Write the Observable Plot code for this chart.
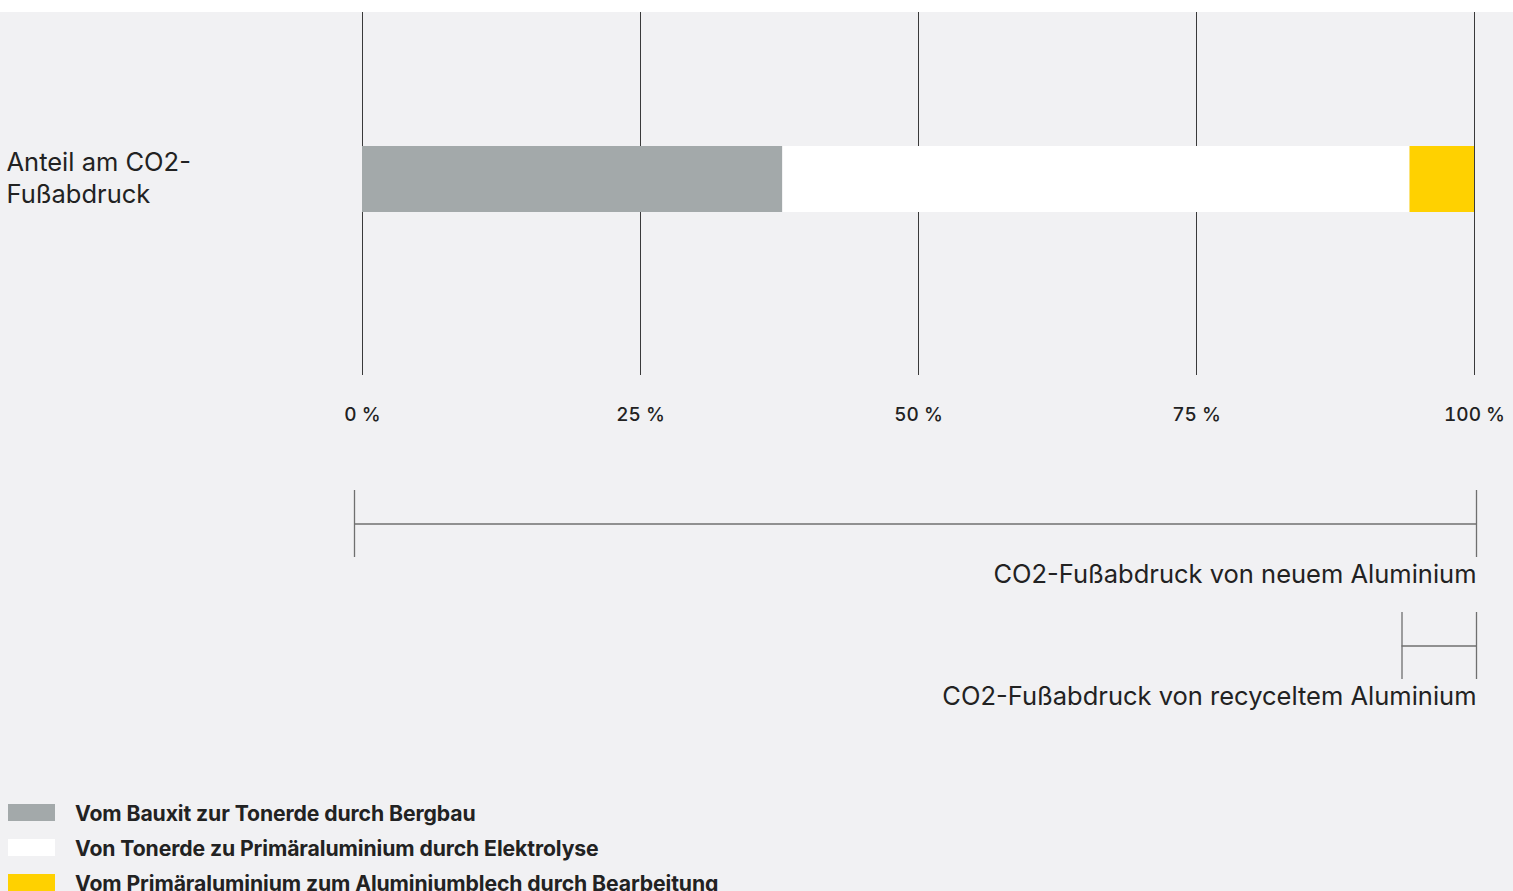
<!DOCTYPE html>
<html><head><meta charset="utf-8">
<script src="https://cdn.jsdelivr.net/npm/d3@7"></script>
<script src="https://cdn.jsdelivr.net/npm/@observablehq/plot@0.6"></script>
<style>
html,body{margin:0;padding:0;background:#f1f1f3;overflow:hidden;width:1513px;height:891px;font-family:Inter,"Liberation Sans",sans-serif;color:#222;}
#top{height:12px;background:#fff;}
#chart svg,#brackets svg{display:block;background:transparent;}
#legend{position:absolute;left:8px;top:795px;}
.row{display:flex;align-items:center;height:35px;}
.sw{width:47px;height:17px;margin-right:20px;}
.lab{font-size:21.2px;font-weight:700;letter-spacing:-0.1px;color:#222;}
</style></head><body>
<div id="top"></div>
<div id="chart"></div>
<div id="brackets"></div>
<div id="legend"></div>
<script>
const category = ["Anteil am CO2-\nFußabdruck"];
const stages = [
  "Vom Bauxit zur Tonerde durch Bergbau",
  "Von Tonerde zu Primäraluminium durch Elektrolyse",
  "Vom Primäraluminium zum Aluminiumblech durch Bearbeitung"
];
const shares = [37.8, 56.4, 5.8];
const colors = ["#a3a9aa", "#ffffff", "#ffd100"];
const ticks = [0, 25, 50, 75, 100];
const bracketLabels = ["CO2-Fußabdruck von neuem Aluminium", "CO2-Fußabdruck von recyceltem Aluminium"];
const bracketStart = [0, shares[0] + shares[1]];
const bracketEnd = [100, 100];

const font = "Inter, 'Liberation Sans', sans-serif";
const barData = stages.map((s, i) => ({stage: s, share: shares[i], cat: category[0]}));

const chart = Plot.plot({
  width: 1513, height: 428,
  marginLeft: 362, marginRight: 39, marginTop: 0, marginBottom: 65,
  style: {fontFamily: font, background: "transparent", color: "#222"},
  x: {domain: [0, 100], label: null},
  y: {domain: category, padding: 0.692, align: 0.451, axis: null},
  color: {domain: stages, range: colors},
  marks: [
    Plot.ruleX(ticks, {stroke: "#3a3a3a", strokeWidth: 1}),
    Plot.barX(barData, Plot.stackX({x: "share", y: "cat", fill: "stage"})),
    Plot.ruleX([100], {stroke: "#3a3a3a", strokeWidth: 1}),
    Plot.text(category, {y: d => d, text: d => d, frameAnchor: "left", dx: -356, dy: -3, textAnchor: "start", fontSize: 25.5, lineHeight: 1.27, fill: "#222"}),
    Plot.axisX({ticks, tickFormat: d => d + " %", tickSize: 0, tickPadding: 32, fontSize: 19, fontWeight: 500, fill: "#222", label: null})
  ]
});
document.getElementById("chart").append(chart);

const bracketData = bracketLabels.map((l, i) => ({label: l, start: bracketStart[i], end: bracketEnd[i]}));
const br = Plot.plot({
  width: 1513, height: 300,
  marginLeft: 362, marginRight: 39, marginTop: 50, marginBottom: 60,
  style: {fontFamily: font, background: "transparent"},
  x: {domain: [0, 100], axis: null},
  y: {domain: bracketLabels, paddingInner: 0.45, paddingOuter: 0, axis: null},
  marks: [
    Plot.ruleY(bracketData, {y: "label", x1: "start", x2: "end", insetLeft: -8, insetRight: -2, stroke: "#6f6f6f", strokeWidth: 1.3}),
    Plot.tickX(bracketData, {x: "start", y: "label", dx: -8, stroke: "#6f6f6f", strokeWidth: 1.3}),
    Plot.tickX(bracketData, {x: "end", y: "label", dx: 2, stroke: "#6f6f6f", strokeWidth: 1.3}),
    Plot.text(bracketData, {x: "end", y: "label", text: "label", textAnchor: "end", dx: 2, dy: 51, fontSize: 25.5, fill: "#222"})
  ]
});
document.getElementById("brackets").append(br);

const legend = document.getElementById("legend");
stages.forEach((s, i) => {
  const row = document.createElement("div"); row.className = "row";
  const sw = document.createElement("div"); sw.className = "sw"; sw.style.background = colors[i];
  const lab = document.createElement("span"); lab.className = "lab"; lab.textContent = s;
  row.append(sw, lab); legend.append(row);
});
</script>
</body></html>
